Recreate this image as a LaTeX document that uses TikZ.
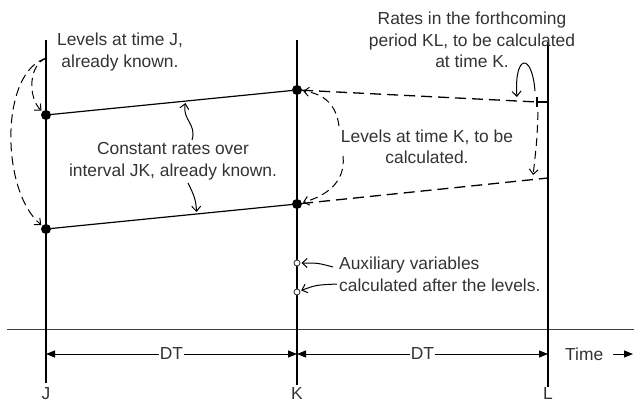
\documentclass[tikz,border=0pt]{standalone}
\usepackage{fontspec}
\setmainfont{Liberation Sans}
\usetikzlibrary{arrows.meta,calc}

\begin{document}
\begin{tikzpicture}[x=1pt,y=-1pt,>=Latex,
  font=\fontsize{17.4}{21.5}\selectfont,
  txt/.style={text=black!80,align=center,inner sep=0pt},
  dot/.style={circle,fill=black,inner sep=0pt,minimum size=10pt},
  auxdot/.style={circle,draw=black!75,fill=white,inner sep=0pt,minimum size=6pt,line width=0.9pt},
  note/.style={->,line width=1pt,>={Straight Barb[length=5pt,width=9pt]},shorten >=1pt},
  dimline/.style={{Triangle[length=9pt,width=7pt]}-{Triangle[length=9pt,width=7pt]},line width=0.8pt}]
  \useasboundingbox (0,0) rectangle (634,401);

  % Time axis and the three instants
  \coordinate (axL) at (7,329);
  \coordinate (axR) at (634,329);
  \draw[line width=0.9pt,black!75] (axL) -- (axR);
  \coordinate (Jt) at (46,40);  \coordinate (Jb) at (46,383);
  \coordinate (Kt) at (297,40); \coordinate (Kb) at (297,385);
  \coordinate (Lt) at (548,42); \coordinate (Lb) at (548,387);
  \draw[line width=1.3pt] (Jt) -- (Jb);
  \draw[line width=1.3pt] (Kt) -- (Kb);
  \draw[line width=1.3pt] (Lt) -- (Lb);
  \node[txt,anchor=north] (J) at (46,387) {J};
  \node[txt,anchor=north] (K) at (297,387) {K};
  \node[txt,anchor=north] (L) at (548,387) {L};

  % DT intervals
  \coordinate (dJ) at (46,354);
  \coordinate (dK) at (297,354);
  \coordinate (dL) at (548,354);
  \draw[dimline] (dJ) -- (dK) node[midway,fill=white,inner sep=1pt,text=black!80] (dt1) {DT};
  \draw[dimline] (dK) -- (dL) node[midway,fill=white,inner sep=1pt,text=black!80] (dt2) {DT};
  \node[txt,anchor=west] (time) at (565,354) {Time};
  \coordinate (tend) at (633,354);
  \draw[-{Triangle[length=9pt,width=7pt]},line width=0.8pt] ([xshift=10pt]time.east) -- (tend);

  % Levels
  \node[dot] (ja) at (46,115) {};
  \node[dot] (jb) at (46,229) {};
  \node[dot] (ka) at (297,90) {};
  \node[dot] (kb) at (297,204) {};
  \draw[line width=1.2pt] (ja) -- (ka);
  \draw[line width=1.2pt] (jb) -- (kb);

  % Forthcoming rates (dashed)
  \coordinate (ltick) at (537,102);
  \coordinate (lbot) at (548,178);
  \draw[line width=1.3pt,dash pattern=on 11pt off 6pt] (ka) -- (ltick);
  \draw[line width=1.1pt] (ltick) -- (548,102);
  \draw[line width=1.1pt] (537,97) -- (537,107);
  \draw[line width=1.3pt,dash pattern=on 11pt off 6pt] (kb) -- (lbot);

  % Auxiliaries
  \node[auxdot] (x1) at (297,263) {};
  \node[auxdot] (x2) at (297,292) {};

  % Labels
  \node[txt] (levJ) at (120,52) {Levels at time J,\\already known.};
  \node[txt] (rates) at (173,161) {Constant rates over\\interval JK, already known.};
  \node[txt] (levK) at (427,147) {Levels at time K, to be\\calculated.};
  \node[txt] (fut) at (472,40) {Rates in the forthcoming\\period KL, to be calculated\\at time K.};
  \node[txt,align=left,anchor=west] (aux) at (339,274.5) {Auxiliary variables\\calculated after the levels.};

  % Pointers
  \coordinate (p1) at (47,58);
  \draw[note,dash pattern=on 8pt off 5pt] (p1) .. controls (28,64) and (28,98) .. (ja);
  \draw[note,dash pattern=on 9pt off 5pt] (p1) .. controls (0,70) and (0,190) .. (jb);
  \coordinate (ra) at ($(ja)!0.557!(ka)$);
  \coordinate (rb) at ($(jb)!0.60!(kb)$);
  \coordinate (p2) at (192,140);
  \coordinate (p3) at (188,183);
  \draw[note,shorten >=2pt] (p2) .. controls (197,124) and (182,120) .. (ra);
  \draw[note,shorten >=2pt] (p3) .. controls (194,195) and (196,200) .. (rb);
  \coordinate (p4) at (339,126);
  \coordinate (p5) at (343,156);
  \draw[note,dash pattern=on 8pt off 5pt] (p4) .. controls (336,104) and (324,94) .. (ka);
  \draw[note,dash pattern=on 8pt off 5pt] (p5) .. controls (346,182) and (326,196) .. (kb);
  \coordinate (p6) at (535,91);
  \coordinate (q6) at (517,98);
  \draw[note] (p6) .. controls (532,52) and (514,54) .. (q6);
  \coordinate (p7) at (538,112);
  \coordinate (q7) at (533,176);
  \draw[note,dash pattern=on 8pt off 5pt] (p7) .. controls (537,140) .. (q7);
  \coordinate (p8) at (333,267);
  \coordinate (p9) at (337,284);
  \draw[note] (p8) .. controls (318,263) .. (x1);
  \draw[note] (p9) .. controls (316,285) .. (x2);
\end{tikzpicture}
\end{document}
